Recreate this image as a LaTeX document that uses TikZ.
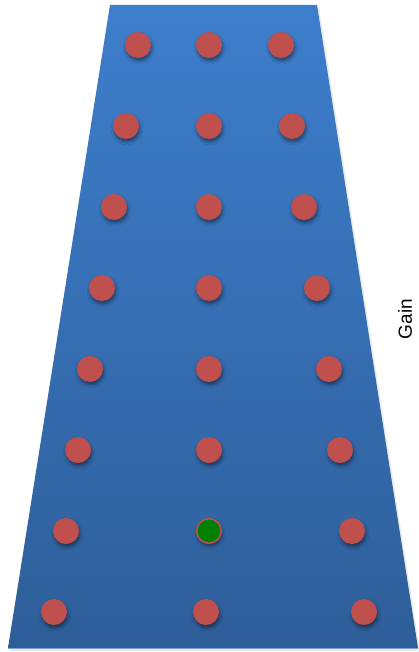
\documentclass[tikz,border=0pt]{standalone}
\usepackage{fontspec}
\setmainfont{Liberation Sans}
\usetikzlibrary{shadows.blur}
\definecolor{topblue}{RGB}{61,126,204}
\definecolor{botblue}{RGB}{46,94,153}
\definecolor{dotred}{RGB}{192,80,77}
\definecolor{dotgreen}{RGB}{0,128,0}
\begin{document}
\begin{tikzpicture}[x=1pt,y=-1pt,
  dot/.style={circle,minimum size=26pt,inner sep=0pt,fill=dotred,
    blur shadow={shadow xshift=1pt,shadow yshift=-3pt,shadow blur radius=3pt,shadow opacity=45}},
  gdot/.style={dot,fill=dotgreen,draw=dotred,line width=1.5pt,minimum size=24.5pt},
  lab/.style={font=\fontsize{19}{22}\selectfont,rotate=90}]
\useasboundingbox (0,0) rectangle (418,652);
% trapezoid shadow
\fill[black,opacity=0.08] (112,7) -- (319,7) -- (420,651) -- (10,651) -- cycle;
\shade[top color=topblue,bottom color=botblue,shading angle=0]
  (110,5) -- (317,5) -- (418,648) -- (8,648) -- cycle;
\draw[topblue!70!white,line width=1pt] (8,648) -- (418,648);
% dots
\foreach \r/\y/\l/\c/\rr in {1/45/138/209/281, 2/126/126/209/292, 3/207/114/209/304,
  4/288/102/209/317, 5/369/90/209/329, 6/450/78/209/340, 8/612/54/206/364}{
  \node[dot] (l\r) at (\l,\y) {};
  \node[dot] (c\r) at (\c,\y) {};
  \node[dot] (r\r) at (\rr,\y) {};
}
\node[dot] (l7) at (66,531) {};
\node[gdot] (c7) at (209,531) {};
\node[dot] (r7) at (352,531) {};
\node[lab] (gain) at (405,319) {Gain};
\end{tikzpicture}
\end{document}
